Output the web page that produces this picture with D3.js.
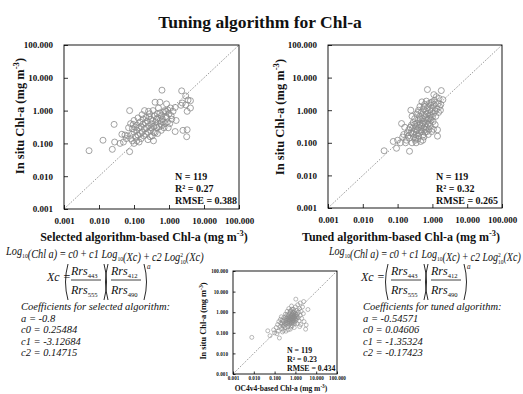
<!DOCTYPE html>
<html>
<head>
<meta charset="utf-8">
<script src="https://cdn.jsdelivr.net/npm/d3@7"></script>
<style>
  body { margin: 0; background: #fff; }
  svg text { font-family: "Liberation Serif", "Times New Roman", serif; fill: #111; }
</style>
</head>
<body>
<svg id="chart" width="523" height="394"></svg>
<script>
const tickValues = [0.001, 0.01, 0.1, 1, 10, 100];
const tickLabels = ['0.001', '0.010', '0.100', '1.000', '10.000', '100.000'];

// [algorithm-based Chl-a, in situ Chl-a]
const selectedPts = [
  [0.0052,0.060],[0.013,0.125],[0.024,0.066],[0.027,0.38],[0.028,0.11],[0.075,0.056],[0.075,1.00],
  [0.045,0.19],[0.055,0.18],[0.065,0.17],[0.08,0.14],[0.09,0.12],[0.10,0.10],[0.085,0.19],
  [0.10,0.22],[0.11,0.16],[0.12,0.25],[0.095,0.38],[0.10,0.50],[0.12,0.36],[0.14,0.30],
  [0.15,0.20],[0.16,0.14],[0.13,0.60],[0.15,0.45],[0.17,0.75],[0.20,1.00],[0.22,0.62],
  [0.18,0.38],[0.20,0.28],[0.22,0.19],[0.25,0.13],[0.26,0.34],[0.24,0.48],[0.28,0.80],
  [0.30,0.55],[0.32,0.40],[0.30,0.25],[0.33,0.17],[0.36,0.12],[0.35,1.00],[0.38,0.70],
  [0.40,1.80],[0.42,0.45],[0.45,0.30],[0.40,0.21],[0.48,0.60],[0.50,1.20],[0.55,0.85],
  [0.55,1.80],[0.58,0.40],[0.60,0.25],[0.63,4.2],[0.65,0.55],[0.70,0.90],[0.75,1.00],
  [0.80,0.65],[0.85,1.6],[0.90,0.45],[0.95,0.30],[1.0,0.80],[1.1,1.2],[1.2,0.55],
  [1.3,0.95],[1.5,1.25],[1.5,0.23],[1.6,0.50],[2.2,1.45],[2.3,4.0],[2.4,1.7],[2.5,0.25],
  [3.0,2.8],[3.2,0.16],[3.3,0.26],[3.3,0.95],[3.5,2.1],[4.1,2.0],[4.1,1.2],[3.0,1.5],
  [0.06,0.14],[0.07,0.30],[0.09,0.28],[0.11,0.31],[0.13,0.18],[0.14,0.11],[0.17,0.22],
  [0.19,0.17],[0.21,0.42],[0.23,0.30],[0.25,0.22],[0.27,0.65],[0.29,0.16],[0.31,0.30],
  [0.34,0.50],[0.36,0.33],[0.37,0.22],[0.41,0.35],[0.44,0.55],[0.46,0.80],[0.47,0.20],
  [0.52,0.32],[0.56,0.50],[0.60,0.70],[0.62,0.35],[0.68,0.45],[0.72,0.30],[0.78,0.40],
  [0.82,0.95],[0.88,0.60],[0.92,1.05],[1.05,0.40],[1.15,0.70],[0.26,0.95],[0.18,0.55],
  [0.16,0.33],[0.08,0.40],[0.12,0.12],[0.05,0.11],[0.04,0.10]
];

const tunedPts = [
  [0.041,0.057],[0.075,0.11],[0.093,0.068],[0.22,0.055],[0.13,0.39],[0.24,1.0],[0.72,4.3],
  [1.8,4.0],[1.1,3.0],[2.0,2.1],[1.6,1.3],[1.07,0.26],[1.4,0.25],[1.4,0.16],[0.95,0.22],
  [0.12,0.10],[0.15,0.18],[0.17,0.10],[0.18,0.12],[0.20,0.16],[0.21,0.25],[0.22,0.14],
  [0.24,0.20],[0.25,0.35],[0.26,0.10],[0.27,0.28],[0.28,0.42],[0.29,0.15],[0.30,0.22],
  [0.31,0.55],[0.32,0.12],[0.33,0.32],[0.34,0.18],[0.35,0.75],[0.36,0.40],[0.37,0.25],
  [0.38,0.13],[0.39,0.50],[0.40,1.0],[0.41,0.30],[0.42,0.20],[0.43,0.65],[0.44,1.3],
  [0.45,0.40],[0.46,0.11],[0.47,0.25],[0.48,0.85],[0.50,1.8],[0.50,0.33],[0.52,0.55],
  [0.53,0.17],[0.55,1.1],[0.56,0.45],[0.57,0.28],[0.58,0.70],[0.60,1.5],[0.61,0.21],
  [0.62,0.38],[0.64,0.95],[0.65,0.60],[0.67,1.9],[0.68,0.30],[0.70,0.48],[0.72,1.2],
  [0.74,0.80],[0.76,0.18],[0.78,0.55],[0.80,1.6],[0.82,0.40],[0.84,1.0],[0.86,0.70],
  [0.88,0.32],[0.90,1.4],[0.92,0.50],[0.95,0.90],[0.98,1.8],[1.0,0.62],[1.02,1.15],
  [1.05,0.45],[1.08,0.80],[1.1,1.5],[1.15,2.0],[1.2,0.95],[1.25,0.65],[1.3,2.6],
  [1.35,1.1],[1.45,1.6],[1.5,0.85],[1.55,2.3],[1.7,1.0],[1.75,1.5],[0.19,0.20],
  [0.23,0.30],[0.27,0.19],[0.33,0.14],[0.35,0.24],[0.40,0.16],[0.43,0.36],[0.48,0.22],
  [0.53,0.40],[0.57,0.15],[0.63,0.26],[0.69,0.22],[0.73,0.36],[0.79,0.26],[0.85,0.55],
  [0.44,0.52],[0.31,0.37],[0.38,0.85],[0.58,1.3],[0.66,0.75],[0.26,0.65],[0.16,0.30],
  [0.14,0.15],[0.10,0.12],[0.53,0.12],[0.34,0.10],[1.2,0.36],[0.91,1.7]
];

const oc4Pts = [
  [0.008,0.060],[0.047,0.125],[0.060,0.072],[0.17,0.056],[1.05,4.3],[2.5,3.3],[4.0,1.35],
  [3.1,0.15],[3.3,0.24],[1.7,2.8],[0.12,0.18],[0.14,0.25],[0.15,0.12],[0.18,0.20],
  [0.20,0.30],[0.22,0.16],[0.24,0.40],[0.25,0.22],[0.27,0.13],[0.28,0.55],[0.30,0.28],
  [0.32,0.18],[0.33,0.80],[0.35,0.38],[0.36,0.25],[0.38,0.50],[0.40,1.10],[0.42,0.30],
  [0.43,0.20],[0.45,0.65],[0.46,0.42],[0.48,1.50],[0.50,0.35],[0.52,0.25],[0.53,0.90],
  [0.55,0.55],[0.57,0.15],[0.58,0.45],[0.60,1.20],[0.62,0.70],[0.63,0.32],[0.65,2.0],
  [0.67,0.50],[0.69,0.85],[0.70,0.22],[0.72,0.40],[0.74,1.0],[0.76,0.60],[0.78,0.30],
  [0.80,1.4],[0.82,0.75],[0.85,0.45],[0.88,0.18],[0.90,1.1],[0.92,0.55],[0.95,0.35],
  [0.98,0.90],[1.0,1.8],[1.05,0.65],[1.1,0.42],[1.15,1.2],[1.2,0.28],[1.25,0.80],
  [1.3,2.3],[1.35,0.55],[1.4,1.0],[1.5,0.38],[1.6,1.5],[1.7,0.70],[1.8,0.25],[1.9,1.1],
  [2.0,0.50],[2.2,1.8],[2.4,0.85],[2.6,0.35],[0.16,0.35],[0.19,0.45],[0.21,0.60],
  [0.23,0.28],[0.26,0.35],[0.29,0.22],[0.31,0.45],[0.34,0.60],[0.37,0.32],[0.39,0.75],
  [0.41,0.42],[0.44,0.28],[0.47,0.55],[0.49,0.75],[0.51,0.45],[0.54,0.32],[0.56,1.1],
  [0.59,0.60],[0.61,0.40],[0.64,0.28],[0.66,0.70],[0.68,1.40],[0.71,0.55],[0.73,0.33],
  [0.75,0.80],[0.77,0.48],[0.79,0.62],[0.81,0.38],[0.84,0.95],[0.87,0.58],[0.89,0.70],
  [0.93,0.28],[0.96,0.48],[1.08,0.75],[1.12,0.50],[1.18,0.62],[0.10,0.10],[0.09,0.14],
  [0.13,0.09],[0.35,0.12],[0.45,0.14],[0.24,0.11],[1.6,0.2],[0.62,0.19]
];

const selectedStats = ['N = 119', 'R\u00b2 = 0.27', 'RMSE = 0.388'];
const tunedStats = ['N = 119', 'R\u00b2 = 0.32', 'RMSE = 0.265'];
const oc4Stats = ['N = 119', 'R\u00b2 = 0.23', 'RMSE = 0.434'];

const selectedCoefs = ['a = -0.8', 'c0 = 0.25484', 'c1 = -3.12684', 'c2 = 0.14715'];
const tunedCoefs = ['a = -0.54571', 'c0 = 0.04606', 'c1 = -1.35324', 'c2 = -0.17423'];

const svg = d3.select('#chart');

svg.append('text')
  .attr('x', 260).attr('y', 28)
  .attr('text-anchor', 'middle')
  .attr('font-size', 17.5).attr('font-weight', 'bold')
  .text('Tuning algorithm for Chl-a');

function addUnits(t, fs) {
  t.append('tspan').text(' (mg m');
  t.append('tspan').attr('dy', -fs * 0.38).attr('font-size', fs * 0.7).text('-3');
  t.append('tspan').attr('dy', fs * 0.38).text(')');
}

function drawPanel(p) {
  const x = d3.scaleLog().domain([0.001, 100]).range([p.left, p.right]);
  const y = d3.scaleLog().domain([0.001, 100]).range([p.bottom, p.top]);
  const g = svg.append('g');
  const fmt = d => tickLabels[tickValues.indexOf(d)];

  g.append('line')
    .attr('x1', x(0.001)).attr('y1', y(0.001))
    .attr('x2', x(100)).attr('y2', y(100))
    .attr('stroke', '#444').attr('stroke-width', 0.7)
    .attr('stroke-dasharray', '1,1.5');

  g.selectAll('circle').data(p.data).join('circle')
    .attr('cx', d => x(d[0]))
    .attr('cy', d => y(d[1]))
    .attr('r', p.r)
    .attr('fill', 'none')
    .attr('stroke', '#8c8c8c')
    .attr('stroke-width', p.sw);

  const xa = g.append('g').attr('transform', `translate(0,${p.bottom})`)
    .call(d3.axisBottom(x).tickValues(tickValues).tickFormat(fmt)
      .tickSizeInner(-p.tick).tickSizeOuter(0).tickPadding(p.xpad));
  const ya = g.append('g').attr('transform', `translate(${p.left},0)`)
    .call(d3.axisLeft(y).tickValues(tickValues).tickFormat(fmt)
      .tickSizeInner(-p.tick).tickSizeOuter(0).tickPadding(p.ypad));
  [xa, ya].forEach(a => {
    a.select('.domain').remove();
    a.selectAll('text').attr('font-size', p.tickFs).attr('font-weight', 'bold')
      .attr('font-family', '"Liberation Serif", serif').attr('fill', '#111');
    a.selectAll('line').attr('stroke', '#000').attr('stroke-width', 0.8);
  });

  g.append('rect')
    .attr('x', p.left).attr('y', p.top)
    .attr('width', p.right - p.left).attr('height', p.bottom - p.top)
    .attr('fill', 'none').attr('stroke', '#000').attr('stroke-width', 0.9);

  p.stats.forEach((s, i) => {
    g.append('text')
      .attr('x', p.right - p.statDx)
      .attr('y', p.statY + i * p.statGap)
      .attr('font-size', p.statFs).attr('font-weight', 'bold')
      .text(s);
  });

  const xt = g.append('text')
    .attr('x', p.xTitle[0]).attr('y', p.xTitle[1])
    .attr('text-anchor', 'middle')
    .attr('font-size', p.titleFs).attr('font-weight', 'bold');
  xt.append('tspan').text(p.xLabel);
  addUnits(xt, p.titleFs);

  const yt = g.append('text')
    .attr('transform', `translate(${p.yTitle[0]},${p.yTitle[1]}) rotate(-90)`)
    .attr('text-anchor', 'middle')
    .attr('font-size', p.yFs).attr('font-weight', 'bold');
  yt.append('tspan').text('In situ Chl-a');
  addUnits(yt, p.yFs);
}

drawPanel({
  left: 64, right: 239, top: 45, bottom: 209,
  data: selectedPts, r: 3, sw: 0.8, tick: 4, xpad: 9, ypad: 11, tickFs: 9,
  stats: selectedStats, statDx: 64, statY: 180, statGap: 12, statFs: 10,
  xLabel: 'Selected algorithm-based Chl-a', xTitle: [144, 241], titleFs: 12,
  yTitle: [24, 116], yFs: 12.5
});

drawPanel({
  left: 328, right: 502, top: 45, bottom: 208,
  data: tunedPts, r: 3, sw: 0.8, tick: 4, xpad: 9, ypad: 11, tickFs: 9,
  stats: tunedStats, statDx: 66, statY: 180, statGap: 12, statFs: 10,
  xLabel: 'Tuned algorithm-based Chl-a', xTitle: [401, 241], titleFs: 12,
  yTitle: [284, 117], yFs: 12.5
});

drawPanel({
  left: 233, right: 337, top: 271, bottom: 374,
  data: oc4Pts, r: 2, sw: 0.6, tick: 2.5, xpad: 2, ypad: 5, tickFs: 5.2,
  stats: oc4Stats, statDx: 50, statY: 353, statGap: 9, statFs: 7.8,
  xLabel: 'OC4v4-based Chl-a', xTitle: [281, 391], titleFs: 7.5,
  yTitle: [206, 321], yFs: 8.3
});

// Log10(Chl a) equation, squeezed to the width it has in the figure
function drawEquation(x0, y0, fs, width) {
  const t = svg.append('text').attr('x', 0).attr('y', 0)
    .attr('font-size', fs).attr('font-style', 'italic');
  const sub = (s) => {
    t.append('tspan').attr('dy', fs * 0.25).attr('font-size', fs * 0.55).attr('font-style', 'normal').text(s);
    t.append('tspan').attr('dy', -fs * 0.25).text('');
  };
  t.append('tspan').text('Log'); sub('10');
  t.append('tspan').text('(Chl a)\u2009=\u2009c0\u2009+\u2009c1 Log'); sub('10');
  t.append('tspan').text('(Xc)\u2009+\u2009c2 Log');
  t.append('tspan').attr('dy', -fs * 0.35).attr('font-size', fs * 0.55).attr('font-style', 'normal').text('2');
  t.append('tspan').attr('dx', -fs * 0.28).attr('dy', fs * 0.6).attr('font-size', fs * 0.55).attr('font-style', 'normal').text('10');
  t.append('tspan').attr('dy', -fs * 0.25).text('(Xc)');
  const w = t.node().getBBox().width;
  t.attr('transform', `translate(${x0},${y0}) scale(${width / w},1)`);
}

function paren(x, top, bot, dir) {
  const mid = (top + bot) / 2;
  svg.append('path')
    .attr('d', `M${x},${top} Q${x - dir * 5},${mid} ${x},${bot}`)
    .attr('fill', 'none').attr('stroke', '#111').attr('stroke-width', 0.9);
}

function rrs(x, y, band, fs) {
  const t = svg.append('text').attr('x', x).attr('y', y).attr('font-size', fs).attr('font-style', 'italic');
  t.append('tspan').text('Rrs');
  t.append('tspan').attr('dy', fs * 0.28).attr('font-size', fs * 0.55).attr('font-style', 'normal').text(band);
  return t;
}

function drawXc(x0, yb, fs, gap) {
  svg.append('text').attr('x', x0).attr('y', yb)
    .attr('font-size', fs).attr('font-style', 'italic').text('Xc =');
  const top = yb - 17, bot = yb + 19;
  const p1 = x0 + gap;
  paren(p1, top, bot, 1);
  rrs(p1 + 3, yb - 6, '443', fs);
  rrs(p1 + 3, yb + 13, '555', fs);
  svg.append('line').attr('x1', p1 + 3).attr('x2', p1 + 33).attr('y1', yb - 1).attr('y2', yb - 1)
    .attr('stroke', '#111').attr('stroke-width', 0.8);
  paren(p1 + 36, top, bot, -1);
  const p2 = p1 + 40;
  paren(p2, top, bot, 1);
  rrs(p2 + 3, yb - 6, '412', fs);
  rrs(p2 + 3, yb + 13, '490', fs);
  svg.append('line').attr('x1', p2 + 3).attr('x2', p2 + 33).attr('y1', yb - 1).attr('y2', yb - 1)
    .attr('stroke', '#111').attr('stroke-width', 0.8);
  paren(p2 + 36, top, bot, -1);
  svg.append('text').attr('x', p2 + 39).attr('y', top + 5)
    .attr('font-size', fs * 0.6).attr('font-style', 'italic').text('a');
}

function drawCoefs(x0, y0, title, lines) {
  svg.append('text').attr('x', x0).attr('y', y0)
    .attr('font-size', 10.5).attr('font-style', 'italic').text(title);
  lines.forEach((s, i) => {
    svg.append('text').attr('x', x0).attr('y', y0 + 11.5 * (i + 1))
      .attr('font-size', 10.5).attr('font-style', 'italic').text(s);
  });
}

drawEquation(6, 255, 11.5, 199);
drawEquation(329, 255, 11.5, 193);
drawXc(47, 281, 12, 21);
drawXc(361, 281, 12, 27);
drawCoefs(21, 310, 'Coefficients for selected algorithm:', selectedCoefs);
drawCoefs(363, 310, 'Coefficients for tuned algorithm:', tunedCoefs);
</script>
</body>
</html>
